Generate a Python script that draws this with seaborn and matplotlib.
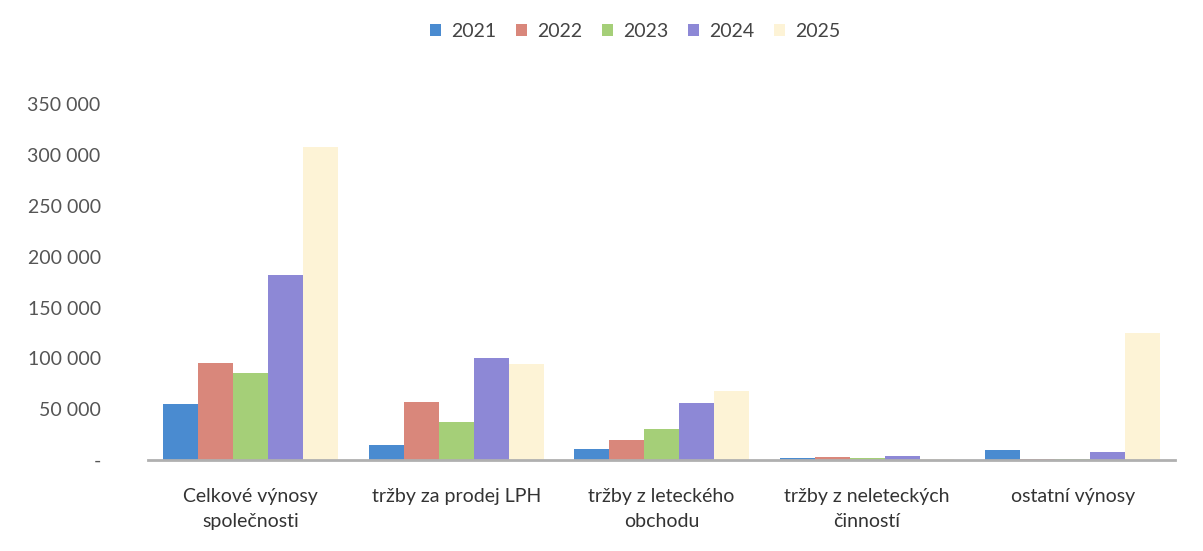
import matplotlib
matplotlib.use("Agg")
import matplotlib.pyplot as plt
import seaborn as sns
import pandas as pd
from matplotlib.ticker import FuncFormatter

categories = ["Celkové výnosy\nspolečnosti", "tržby za prodej LPH", "tržby z leteckého\nobchodu",
              "tržby z neleteckých\nčinností", "ostatní výnosy"]
years = ["2021", "2022", "2023", "2024", "2025"]
v2021 = [55000, 15000, 11000, 2500, 10000]
v2022 = [95000, 57000, 20000, 3000, 1500]
v2023 = [86000, 37000, 31000, 2500, 1000]
v2024 = [182000, 100000, 56000, 4000, 8000]
v2025 = [308000, 94000, 68000, 1000, 125000]
series = [v2021, v2022, v2023, v2024, v2025]

colors = ["#4a8bd0", "#d9877b", "#a5cf78", "#8d88d6", "#fdf3d6"]

rows = []
for y, vals in zip(years, series):
    for c, v in zip(categories, vals):
        rows.append({"cat": c, "year": y, "val": v})
df = pd.DataFrame(rows)

sns.set_theme(style="white")
plt.rcParams['font.family'] = ['Lato', 'DejaVu Sans']

fig = plt.figure(figsize=(12.03, 5.51), dpi=100)
ax = fig.add_axes([0.123, 0.165, 0.854, 0.646])
sns.barplot(data=df, x="cat", y="val", hue="year", palette=colors, width=0.85,
            ax=ax, saturation=1, linewidth=0, legend=True)

ax.set_ylim(0, 350000)
ax.set_yticks(range(0, 350001, 50000))
ax.yaxis.set_major_formatter(FuncFormatter(lambda v, p: "-" if v == 0 else f"{int(v):,}".replace(",", " ")))
ax.tick_params(axis="y", labelsize=14, labelcolor="#555555", length=0, pad=34)
ax.tick_params(axis="x", labelsize=14, labelcolor="#333333", length=0, pad=20)
for lbl in ax.get_xticklabels():
    lbl.set_linespacing(1.55)
ax.set_xlabel("")
ax.set_ylabel("")
for s in ["top", "right", "left"]:
    ax.spines[s].set_visible(False)
ax.spines["bottom"].set_color("#b0b0b0")
ax.spines["bottom"].set_linewidth(2)
ax.set_xlim(-0.5, 4.5)

leg = ax.legend(loc="center", bbox_to_anchor=(0.474, 1.205), ncol=5, frameon=False,
                fontsize=14, handlelength=0.6, handleheight=0.6, handletextpad=0.5,
                columnspacing=1.0, labelcolor="#444444")

fig.savefig("out.png", dpi=100)
